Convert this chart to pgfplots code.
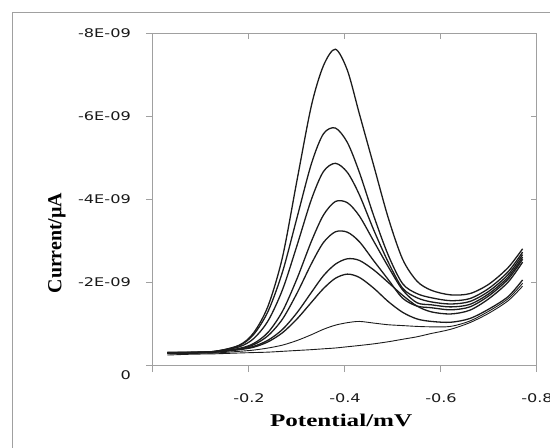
\documentclass[border=0pt]{standalone}
\usepackage{fontspec}
\setmainfont{Liberation Serif}
\newfontfamily\tickfont{DejaVu Sans}[FakeStretch=1.35]
\newfontfamily\labelfont{Liberation Serif}[FakeStretch=1.4]
\usepackage{pgfplots}
\usepackage{pgfplotstable}
\pgfplotsset{compat=1.18}
\definecolor{axgray}{HTML}{A0A0A0}
\definecolor{curve}{HTML}{1C1C1C}

% potential (V) and currents of the nine scans, in units of 1E-09
\pgfplotstableread{
E      c1    c2    c3    c4    c5    c6    c7    c8    c9
-0.03  -0.30 -0.30 -0.30 -0.30 -0.29 -0.29 -0.28 -0.27 -0.24
-0.08  -0.31 -0.30 -0.30 -0.30 -0.30 -0.30 -0.29 -0.28 -0.26
-0.13  -0.33 -0.33 -0.33 -0.32 -0.32 -0.32 -0.31 -0.29 -0.27
-0.18  -0.48 -0.47 -0.44 -0.40 -0.39 -0.38 -0.37 -0.33 -0.29
-0.21  -0.78 -0.74 -0.64 -0.52 -0.49 -0.45 -0.43 -0.36 -0.30
-0.24  -1.43 -1.30 -1.07 -0.79 -0.71 -0.60 -0.56 -0.41 -0.31
-0.27  -2.61 -2.25 -1.82 -1.30 -1.11 -0.86 -0.78 -0.48 -0.33
-0.30  -4.45 -3.55 -2.88 -2.08 -1.73 -1.26 -1.11 -0.59 -0.35
-0.33  -6.25 -4.85 -3.99 -2.98 -2.44 -1.75 -1.51 -0.73 -0.37
-0.355 -7.21 -5.57 -4.66 -3.61 -2.95 -2.15 -1.84 -0.86 -0.39
-0.38  -7.61 -5.71 -4.86 -3.94 -3.21 -2.43 -2.09 -0.96 -0.41
-0.405 -7.10 -5.36 -4.64 -3.91 -3.20 -2.56 -2.19 -1.02 -0.44
-0.43  -6.05 -4.64 -4.10 -3.59 -2.97 -2.52 -2.11 -1.05 -0.47
-0.46  -4.80 -3.59 -3.25 -2.98 -2.51 -2.29 -1.85 -1.01 -0.51
-0.49  -3.55 -2.65 -2.48 -2.37 -2.06 -1.99 -1.53 -0.97 -0.56
-0.52  -2.55 -1.96 -1.85 -1.81 -1.61 -1.68 -1.27 -0.95 -0.62
-0.55  -2.02 -1.72 -1.62 -1.50 -1.42 -1.42 -1.11 -0.93 -0.68
-0.58  -1.80 -1.62 -1.52 -1.45 -1.38 -1.28 -1.05 -0.92 -0.76
-0.62  -1.69 -1.55 -1.47 -1.40 -1.33 -1.23 -1.03 -0.93 -0.86
-0.66  -1.72 -1.60 -1.53 -1.46 -1.40 -1.32 -1.12 -1.06 -1.02
-0.70  -1.95 -1.85 -1.78 -1.72 -1.67 -1.60 -1.35 -1.30 -1.25
-0.74  -2.35 -2.25 -2.18 -2.12 -2.07 -2.00 -1.65 -1.60 -1.55
-0.77  -2.80 -2.72 -2.66 -2.60 -2.55 -2.48 -2.05 -1.97 -1.90
}\dpv

\begin{document}
\begin{tikzpicture}
\useasboundingbox (0,0) rectangle (550bp,448bp);
\clip (0,0) rectangle (550bp,448bp);
\draw[axgray,line width=1bp] (12bp,-5bp) -- (12bp,435bp) -- (560bp,435bp);

\pgfplotsset{
  cvbase/.style={
    at={(153bp,83bp)},anchor=south west,
    scale only axis,width=384bp,height=332bp,
    x dir=reverse,y dir=reverse,
    xmin=-0.8,xmax=0,ymin=-8,ymax=0,
    enlargelimits=false,
    axis line style={axgray,line width=1bp},
    tick style={axgray,line width=1bp},
  },
  scan/.style={curve,line width=1.3bp,smooth,tension=0.5,mark=none},
  thin scan/.style={scan,line width=0.9bp},
}

\begin{axis}[cvbase,
  tick align=outside,major tick length=7bp,
  xtick pos=left,ytick pos=left,
  xtick={0,-0.2,-0.4,-0.6,-0.8},
  xticklabels={,-0.2,-0.4,-0.6,-0.8},
  ytick={-2,-4,-6,-8},
  yticklabels={-2E-09,-4E-09,-6E-09,-8E-09},
  extra y ticks={0},
  extra y tick labels={0},
  extra y tick style={yticklabel style={yshift=-10bp}},
  ticklabel style={font=\tickfont\fontsize{12}{14}\selectfont,text=black!90,inner sep=0pt},
  yticklabel style={anchor=east,xshift=-15bp},
  xticklabel style={anchor=north,yshift=-21bp},
  xlabel={Potential/mV},
  xlabel style={at={(axis description cs:0.49,-0.184)},anchor=base,
    font=\labelfont\bfseries\fontsize{18}{20}\selectfont},
]
\addplot[scan] table[x=E,y=c1] {\dpv};
\addplot[scan] table[x=E,y=c2] {\dpv};
\addplot[scan] table[x=E,y=c3] {\dpv};
\addplot[scan] table[x=E,y=c4] {\dpv};
\addplot[scan] table[x=E,y=c5] {\dpv};
\addplot[scan] table[x=E,y=c6] {\dpv};
\addplot[scan] table[x=E,y=c7] {\dpv};
\addplot[thin scan] table[x=E,y=c8] {\dpv};
\addplot[thin scan] table[x=E,y=c9] {\dpv};
\end{axis}

\begin{axis}[cvbase,
  axis line style={draw=none},
  tick align=inside,major tick length=6bp,
  xtick pos=right,ytick pos=right,
  xtick={0,-0.2,-0.4,-0.6,-0.8},ytick={0,-2,-4,-6,-8},
  xticklabels={},yticklabels={},
]
\end{axis}

\node[rotate=90,anchor=center,inner sep=0pt,
  font=\bfseries\fontsize{20}{22}\selectfont] at (57bp,205bp) {Current/µA};
\end{tikzpicture}
\end{document}
